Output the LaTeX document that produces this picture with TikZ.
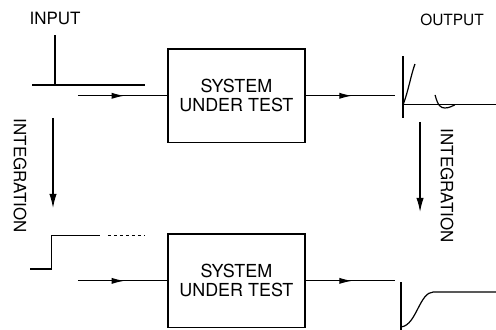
\documentclass[tikz,border=0pt]{standalone}
\usepackage{fontspec}
\setmainfont{TeX Gyre Heros}
\usetikzlibrary{arrows.meta, decorations.markings}

\begin{document}
\begin{tikzpicture}[
        node distance = 6.53cm,
        line width = 1.2pt,
        sut/.style = {draw=black, line width=1.4pt, minimum width=4.83cm, minimum height=3.3cm, align=center, font=\fontsize{18}{19}\selectfont},
        lbl/.style = {font=\fontsize{17}{18}\selectfont},
        midarrow/.style = {decoration={markings, mark=at position 0.52 with {\arrow{Latex[length=4.5mm,width=2.2mm]}}}, postaction={decorate}},
        downarrow/.style = {-{Latex[length=5mm,width=2.6mm]}}]
        \useasboundingbox (0,0) rectangle (17.5,11.64);
        % NODES
        % box top
        \node[sut] (sut1) at (8.34,8.26) {SYSTEM\\UNDER TEST};
        % box bottom
        \node[sut, below of = sut1] (sut2) {SYSTEM\\UNDER TEST};
        % labels
        \node[lbl] (inlbl) at (1.94,11.0) {INPUT};
        \node[lbl, font=\fontsize{15.5}{17}\selectfont] (outlbl) at (15.95,10.94) {OUTPUT};
        \node[lbl, rotate=-90] (intlblL) at (0.71,5.43) {INTEGRATION};
        \node[lbl, rotate=-90] (intlblR) at (15.77,5.08) {INTEGRATION};
        % free ends
        \coordinate (in1) at (2.75,8.26);
        \coordinate (out1) at (13.94,8.26);
        \coordinate (in2) at (in1 |- sut2);
        \coordinate (out2) at (out1 |- sut2);
        \coordinate (intL1) at (1.87,7.48);
        \coordinate (intL2) at (1.87,4.30);
        \coordinate (intR1) at (14.82,7.34);
        \coordinate (intR2) at (14.82,4.16);

        % ARROWS
        \draw[midarrow] (in1) -- (sut1);
        \draw[midarrow] (sut1) -- (out1);
        \draw[midarrow] (in2) -- (sut2);
        \draw[midarrow] (sut2) -- (out2);
        \draw[downarrow] (intL1) -- (intL2);
        \draw[downarrow] (intR1) -- (intR2);

        % WAVEFORMS
        % impulse in
        \draw (1.13,8.64) -- (5.12,8.64);
        \draw (1.94,8.64) -- (1.94,10.41);
        % impulse response
        \draw (14.22,7.48) -- (14.22,9.67);
        \draw (14.22,7.94) -- (17.5,7.94);
        \draw (14.22,7.94) .. controls (14.4,8.4) and (14.5,9.0) .. (14.64,9.38);
        \draw (15.35,8.29) .. controls (15.45,7.9) and (15.55,7.83) .. (15.70,7.83) .. controls (15.85,7.83) and (15.95,7.9) .. (16.05,7.94);
        % step in
        \draw (1.06,2.15) -- (1.83,2.15) -- (1.83,3.32) -- (3.53,3.32);
        \draw[dashed] (3.81,3.32) -- (5.12,3.32);
        % step response
        \draw (14.15,0) -- (14.15,1.69);
        \draw (14.18,0.11) .. controls (14.7,0.2) and (14.8,1.34) .. (15.3,1.34) -- (17.5,1.34);
    \end{tikzpicture}
\end{document}
